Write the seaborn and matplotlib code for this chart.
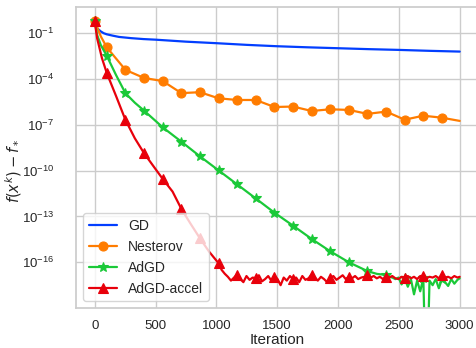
import numpy as np
import pandas as pd
import matplotlib
matplotlib.use("Agg")
import matplotlib.pyplot as plt
from matplotlib.ticker import NullLocator
import seaborn as sns

# ---------------- data (log10 of f(x^k) - f_*) ----------------
MARK_IT = [0, 100, 253, 406, 559, 712, 865, 1018, 1171, 1324, 1477, 1630,
           1783, 1936, 2089, 2242, 2395, 2548, 2701, 2854]

gd_it = [0, 5, 20, 50, 75, 100, 150, 200, 300, 400, 500, 750, 1000, 1250,
         1500, 1750, 2000, 2250, 2500, 2750, 3000]
gd_exp = [-0.2, -0.45, -0.67, -0.88, -1.0, -1.07, -1.16, -1.24, -1.32, -1.38,
          -1.42, -1.55, -1.65, -1.76, -1.85, -1.92, -1.98, -2.04, -2.09, -2.15, -2.2]

nes_it = [0, 50, 100, 253, 406, 559, 712, 865, 1018, 1171, 1324, 1477, 1630,
          1783, 1936, 2089, 2242, 2395, 2548, 2701, 2854, 3000]
nes_exp = [-0.2, -1.2, -1.93, -3.40, -3.93, -4.13, -4.92, -4.86, -5.26, -5.37,
           -5.37, -5.83, -5.80, -6.09, -5.98, -6.02, -6.28, -6.13, -6.66, -6.40,
           -6.53, -6.74]

adgd_it_smooth = [0, 20, 50, 100, 175, 253, 330, 406, 559, 712, 865, 1018, 1171,
                  1324, 1477, 1630, 1783, 1936, 2089, 2242, 2320]
adgd_exp_smooth = [-0.2, -1.11, -1.77, -2.49, -3.73, -4.93, -5.55, -6.07, -7.16,
                   -8.10, -9.06, -9.98, -10.9, -11.82, -12.75, -13.6, -14.47,
                   -15.28, -16.0, -16.58, -16.76]
adgd_it_noise = list(np.arange(2395, 3000, 25.5)) + [3000]
adgd_exp_noise = [-16.83, -16.95, -17.0, -17.1, -17.0, -17.45, -17.05, -17.6,
                  -17.1, -18.1, -17.2, -17.9, -17.05, -25.0, -17.2, -17.5, -17.1,
                  -17.7, -17.1, -17.3, -17.55, -17.1, -17.4, -17.15, -17.05]

acc_it_smooth = [0, 20, 60, 100, 175, 253, 330, 406, 485, 559, 640, 712, 790,
                 865, 940]
acc_exp_smooth = [-0.2, -1.33, -2.64, -3.62, -5.1, -6.68, -7.88, -8.86, -9.73,
                  -10.54, -11.37, -12.5, -13.5, -14.43, -15.3]
acc_it_noise = list(np.arange(1018, 3000, 25.5)) + [3000]
acc_exp_noise = [-16.06, -16.5, -16.75, -16.95, -17.2, -17.0, -16.8, -17.1,
                 -17.3, -16.9, -17.15, -17.0, -17.05, -16.85, -17.25, -17.1,
                 -16.9, -17.2, -16.95, -17.1, -17.5, -17.0, -17.2, -16.9, -17.1,
                 -17.0, -17.3, -16.9, -17.15, -17.05, -16.8, -17.0, -17.2,
                 -16.95, -17.1, -17.3, -17.05, -16.9, -17.15, -17.0, -16.85,
                 -17.1, -16.95, -17.05, -16.9, -17.1, -17.0, -16.95, -16.85,
                 -17.0, -16.9, -17.05, -16.95, -17.1, -16.95, -17.0, -16.9,
                 -17.05, -17.1, -16.95, -17.0, -16.9, -17.05, -16.95, -17.1,
                 -16.9, -16.9, -17.05, -16.95, -17.0, -16.9, -17.05, -16.85,
                 -17.0, -16.95, -17.05, -16.9, -17.0, -16.95]

XTICKS = [0, 500, 1000, 1500, 2000, 2500, 3000]
YTICKS = [1e-1, 1e-4, 1e-7, 1e-10, 1e-13, 1e-16]

# ---------------- plot ----------------
sns.set_theme(style="whitegrid", palette="bright", font="Liberation Sans")
plt.rcParams["font.family"] = ["Liberation Sans", "DejaVu Sans"]
pal = sns.color_palette("bright")

fig = plt.figure(figsize=(4.77, 3.48), dpi=100)
ax = fig.add_axes([76.45 / 477, (348 - 308.1) / 348, 401.5 / 477, 301.1 / 348])

series = [
    ("GD", gd_it, gd_exp, None, pal[0]),
    ("Nesterov", nes_it, nes_exp, "o", pal[1]),
    ("AdGD", adgd_it_smooth + adgd_it_noise, adgd_exp_smooth + adgd_exp_noise, "*", pal[2]),
    ("AdGD-accel", acc_it_smooth + acc_it_noise, acc_exp_smooth + acc_exp_noise, "^", pal[3]),
]

for name, it, ex, mk, col in series:
    it = np.asarray(it, dtype=float)
    val = 10.0 ** np.asarray(ex, dtype=float)
    kw = {}
    if mk is not None:
        idx = [int(i) for i in np.where(np.isin(it, MARK_IT))[0]]
        kw = dict(marker=mk, markevery=idx, markersize=7 if mk != "o" else 6.5,
                  markeredgecolor=col, markeredgewidth=0.8)
    sns.lineplot(x=it, y=val, ax=ax, color=col, label=name, linewidth=1.6,
                 sort=False, estimator=None, **kw)

ax.set_yscale("log")
ax.set_xlim(-150, 3150)
ax.set_ylim(10 ** -19.0, 10 ** 0.72)
ax.set_xticks(XTICKS)
ax.set_yticks(YTICKS)
ax.yaxis.set_minor_locator(NullLocator())
ax.tick_params(axis="both", labelsize=9.5)
ax.tick_params(axis="x", pad=2.5)
ax.tick_params(axis="y", pad=10)
ax.set_xlabel("Iteration", fontsize=11, labelpad=0.5)
ax.set_ylabel(r"$f(x^k) - f_*$", fontsize=10.5)
ax.yaxis.set_label_coords((24 - 76.45) / 401.5, (308.1 - 171) / 301.1)
ax.legend(loc="lower left", fontsize=10)

fig.savefig("out.png", dpi=100)
